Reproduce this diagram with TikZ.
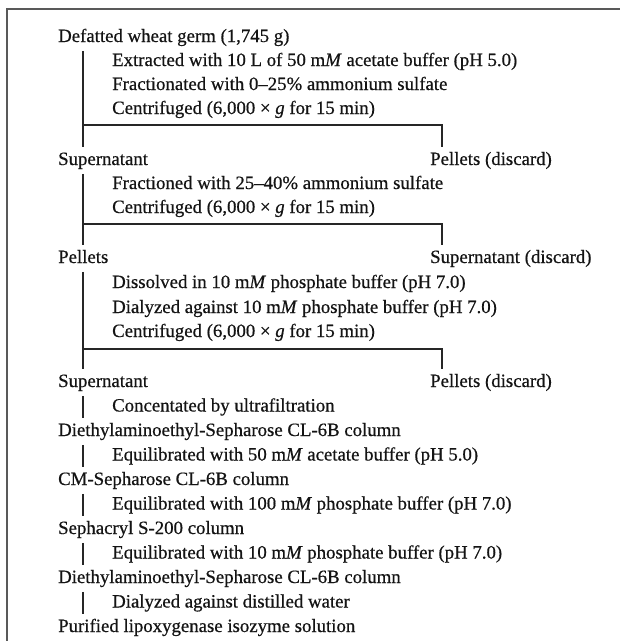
\documentclass[tikz,border=0pt]{standalone}
\usepackage{fontspec}
\setmainfont{Liberation Serif}[UprightFeatures={FakeBold=0.6}, ItalicFeatures={FakeBold=0.6}]
\usepackage{tikz}
\usetikzlibrary{positioning}

\begin{document}
\begin{tikzpicture}[x=1pt, y=-1pt,
    txt/.style={anchor=base west, inner xsep=0pt, inner ysep=4pt, text height=14pt, text depth=4.7pt, font=\fontsize{18.8}{22}\selectfont, text=black!92},
    trunk/.style={line width=1.4pt, black!85},
    tick/.style={line width=2pt, black!85},
    frame/.style={line width=2pt, black!65}]
    \useasboundingbox (0,0) rectangle (620,641);
    \draw[frame] (7,641) -- (7,9) -- (620,9);
    \coordinate (trk) at (83,0);

    % Extraction
    \node[txt] (germ) at (58,42) {Defatted wheat germ (1,745 g)};
    \node[txt] (ext) at (112,66) {Extracted with 10 L of 50 m\textit{M} acetate buffer (pH 5.0)};
    \node[txt] (frac1) at (112,90) {Fractionated with 0--25\% ammonium sulfate};
    \node[txt] (cen1) at (112,114) {Centrifuged (6,000 × \textit{g} for 15 min)};
    \node[txt] (sup1) at (58,165) {Supernatant};
    \node[txt] (pel1) at (430,165) {Pellets (discard)};
    \coordinate (cut1) at (442,125);
    \draw[trunk] (germ.south -| trk) -- (sup1.north -| trk);
    \draw[trunk] (cut1 -| trk) -- (cut1) -- (pel1.north -| cut1);

    % Second cut
    \node[txt] (frac2) at (112,189) {Fractioned with 25--40\% ammonium sulfate};
    \node[txt] (cen2) at (112,213) {Centrifuged (6,000 × \textit{g} for 15 min)};
    \node[txt] (pel2) at (58,263) {Pellets};
    \node[txt] (sup2) at (430,263) {Supernatant (discard)};
    \coordinate (cut2) at (442,224);
    \draw[trunk] (sup1.south -| trk) -- (pel2.north -| trk);
    \draw[trunk] (cut2 -| trk) -- (cut2) -- (sup2.north -| cut2);

    % Redissolve
    \node[txt] (diss) at (112,288) {Dissolved in 10 m\textit{M} phosphate buffer (pH 7.0)};
    \node[txt] (dial1) at (112,313) {Dialyzed against 10 m\textit{M} phosphate buffer (pH 7.0)};
    \node[txt] (cen3) at (112,337) {Centrifuged (6,000 × \textit{g} for 15 min)};
    \node[txt] (sup3) at (58,387) {Supernatant};
    \node[txt] (pel3) at (430,387) {Pellets (discard)};
    \coordinate (cut3) at (442,349);
    \draw[trunk] (pel2.south -| trk) -- (sup3.north -| trk);
    \draw[trunk] (cut3 -| trk) -- (cut3) -- (pel3.north -| cut3);

    % Columns
    \node[txt] (conc) at (112,411.5) {Concentated by ultrafiltration};
    \node[txt] (deae1) at (58,436) {Diethylaminoethyl-Sepharose CL-6B column};
    \node[txt] (eq1) at (112,460.5) {Equilibrated with 50 m\textit{M} acetate buffer (pH 5.0)};
    \node[txt] (cm) at (58,485) {CM-Sepharose CL-6B column};
    \node[txt] (eq2) at (112,509.5) {Equilibrated with 100 m\textit{M} phosphate buffer (pH 7.0)};
    \node[txt] (seph) at (58,534) {Sephacryl S-200 column};
    \node[txt] (eq3) at (112,558.5) {Equilibrated with 10 m\textit{M} phosphate buffer (pH 7.0)};
    \node[txt] (deae2) at (58,583) {Diethylaminoethyl-Sepharose CL-6B column};
    \node[txt] (dial2) at (112,607.5) {Dialyzed against distilled water};
    \node[txt] (pure) at (58,632) {Purified lipoxygenase isozyme solution};
    \foreach \a/\b in {sup3/deae1, deae1/cm, cm/seph, seph/deae2, deae2/pure}
        \draw[tick] (\a.south -| trk) -- (\b.north -| trk);
\end{tikzpicture}
\end{document}
